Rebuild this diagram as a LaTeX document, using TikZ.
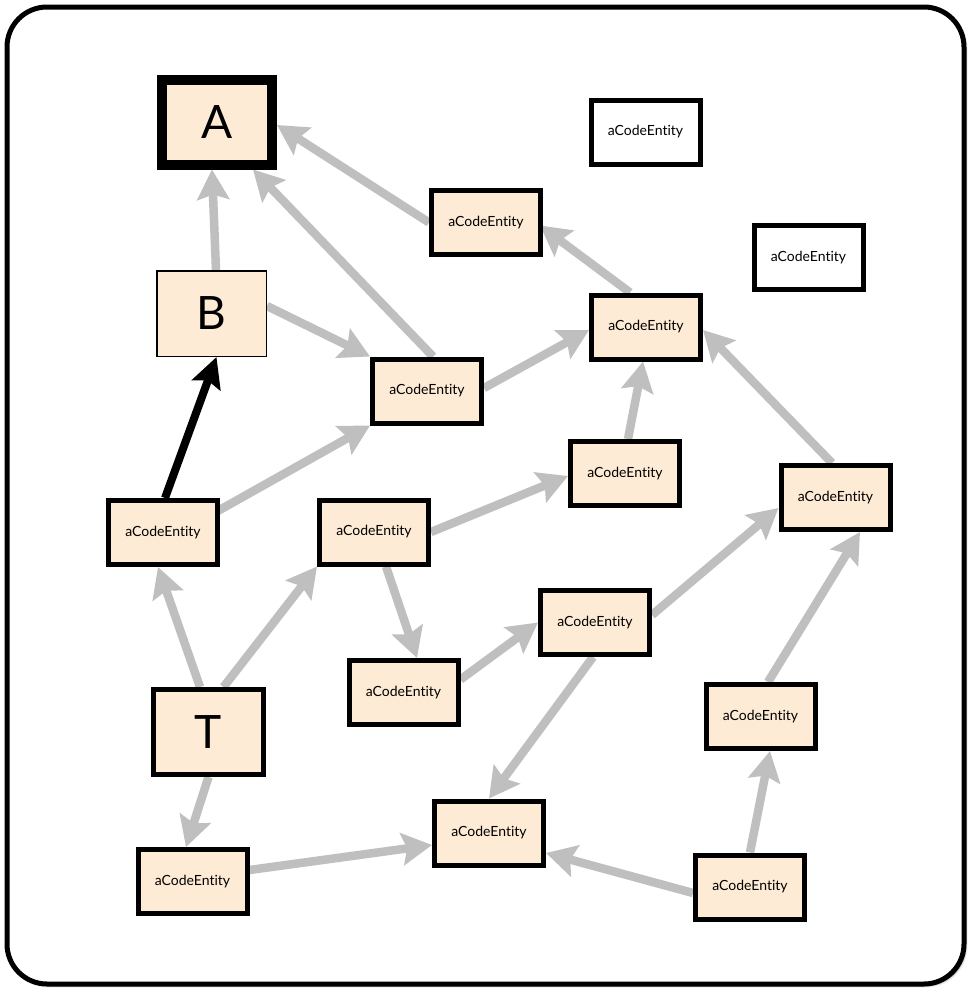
\documentclass[tikz,border=0pt]{standalone}
\usepackage{fontspec}
\setmainfont[Ligatures=NoCommon,RawFeature={-liga;-calt}]{Lato}
\usetikzlibrary{arrows.meta,shadows.blur}
\definecolor{peach}{HTML}{FDEBD5}
\definecolor{linkgray}{HTML}{BFBFBF}
\pgfdeclarelayer{back}
\pgfdeclarelayer{links}
\pgfsetlayers{back,links,main}
\tikzset{
  entity/.style={draw=black, line width=5pt, fill=peach, inner sep=0pt,
    minimum width=109pt, minimum height=64pt,
    font=\fontsize{14}{16}\selectfont},
  freeentity/.style={entity, fill=white},
  bigbox/.style={draw=black, fill=peach, inner sep=0pt,
    font=\fontsize{46}{50}\selectfont},
  link/.style={draw=linkgray, line width=8.5pt,
    -{Stealth[length=30pt,width=32pt,inset=5pt]}},
  strong/.style={draw=black, line width=8pt,
    -{Stealth[length=30pt,width=30pt,inset=5pt]}},
}
\begin{document}
\begin{tikzpicture}[x=1pt,y=-1pt]
\useasboundingbox (0,0) rectangle (969,989);

\begin{pgfonlayer}{back}
  \draw[line width=5pt, rounded corners=40pt, fill=white,
    blur shadow={shadow xshift=2pt, shadow yshift=-2pt, shadow blur steps=6, shadow opacity=35}]
    (7,7) rectangle (964,984);
\end{pgfonlayer}

% main nodes
\node[bigbox, line width=10pt, minimum width=110pt, minimum height=85pt] (a) at (217,122) {A};
\node[bigbox, line width=1.5pt, minimum width=109.5pt, minimum height=85.5pt] (b) at (211.5,313.5) {B};
\node[bigbox, line width=5pt, minimum width=110pt, minimum height=85pt] (t) at (208.5,732) {T};

% code entities
\node[entity] (e1)  at (486,222.5)   {aCodeEntity};
\node[freeentity] (e2) at (645.5,132) {aCodeEntity};
\node[freeentity] (e3) at (808.5,257.5) {aCodeEntity};
\node[entity] (e4)  at (646,327)     {aCodeEntity};
\node[entity] (e5)  at (427,391)     {aCodeEntity};
\node[entity] (e6)  at (625,473.5)   {aCodeEntity};
\node[entity] (e7)  at (835.5,497.5) {aCodeEntity};
\node[entity] (e8)  at (163,532.5)   {aCodeEntity};
\node[entity] (e9)  at (374,532)     {aCodeEntity};
\node[entity] (e10) at (595,622.5)   {aCodeEntity};
\node[entity] (e11) at (403.5,692.5) {aCodeEntity};
\node[entity] (e12) at (760.5,716.5) {aCodeEntity};
\node[entity] (e13) at (489,833)     {aCodeEntity};
\node[entity] (e14) at (192.5,881.5) {aCodeEntity};
\node[entity] (e15) at (750,887)     {aCodeEntity};

% dependencies
\begin{pgfonlayer}{links}
  \draw[link] ([xshift=4.5pt]b.north) -- ([xshift=-5pt]a.south);
  \draw[link] ([xshift=6pt]e5.north) -- ([xshift=36pt]a.south);
  \draw[link] (e1.west) -- ([yshift=-3pt]a.east);
  \draw[link] ([yshift=7.5pt]b.east) -- (e5.north west);
  \draw[link] ([yshift=3pt]e5.east) -- ([yshift=-3pt]e4.west);
  \draw[link] ([xshift=-16pt]e4.north) -- ([xshift=-3pt,yshift=-3pt]e1.east);
  \draw[link] ([xshift=3pt]e6.north) -- ([xshift=-3pt]e4.south);
  \draw[link] ([xshift=-3.5pt]e7.north) -- ([yshift=-3pt]e4.east);
  \draw[link] ([xshift=-4pt,yshift=-14pt]e8.north east) -- (e5.south west);
  \draw[strong] ([xshift=2pt]e8.north) -- ([xshift=5pt]b.south);
  \draw[link] (e9.east) -- ([yshift=-2.5pt]e6.west);
  \draw[link] ([xshift=-8.5pt]t.north) -- ([xshift=-5pt]e8.south);
  \draw[link] ([xshift=15pt]t.north) -- (e9.south west);
  \draw[link] ([xshift=12pt]e9.south) -- ([xshift=13.5pt]e11.north);
  \draw[link] ([yshift=13pt]e11.east) -- (e10.west);
  \draw[link] ([yshift=7.5pt]e10.east) -- ([yshift=-10.5pt]e7.west);
  \draw[link] ([xshift=-2pt]e10.south) -- (e13.north);
  \draw[link] (t.south) -- ([xshift=-6.5pt]e14.north);
  \draw[link] ([yshift=11.5pt]e14.east) -- ([yshift=-12pt]e13.west);
  \draw[link] ([yshift=-6pt]e15.west) -- ([yshift=14.5pt]e13.south east);
  \draw[link] (e15.north) -- ([xshift=9.5pt]e12.south);
  \draw[link] ([xshift=7.5pt]e12.north) -- ([xshift=24.5pt]e7.south);
\end{pgfonlayer}
\end{tikzpicture}
\end{document}
